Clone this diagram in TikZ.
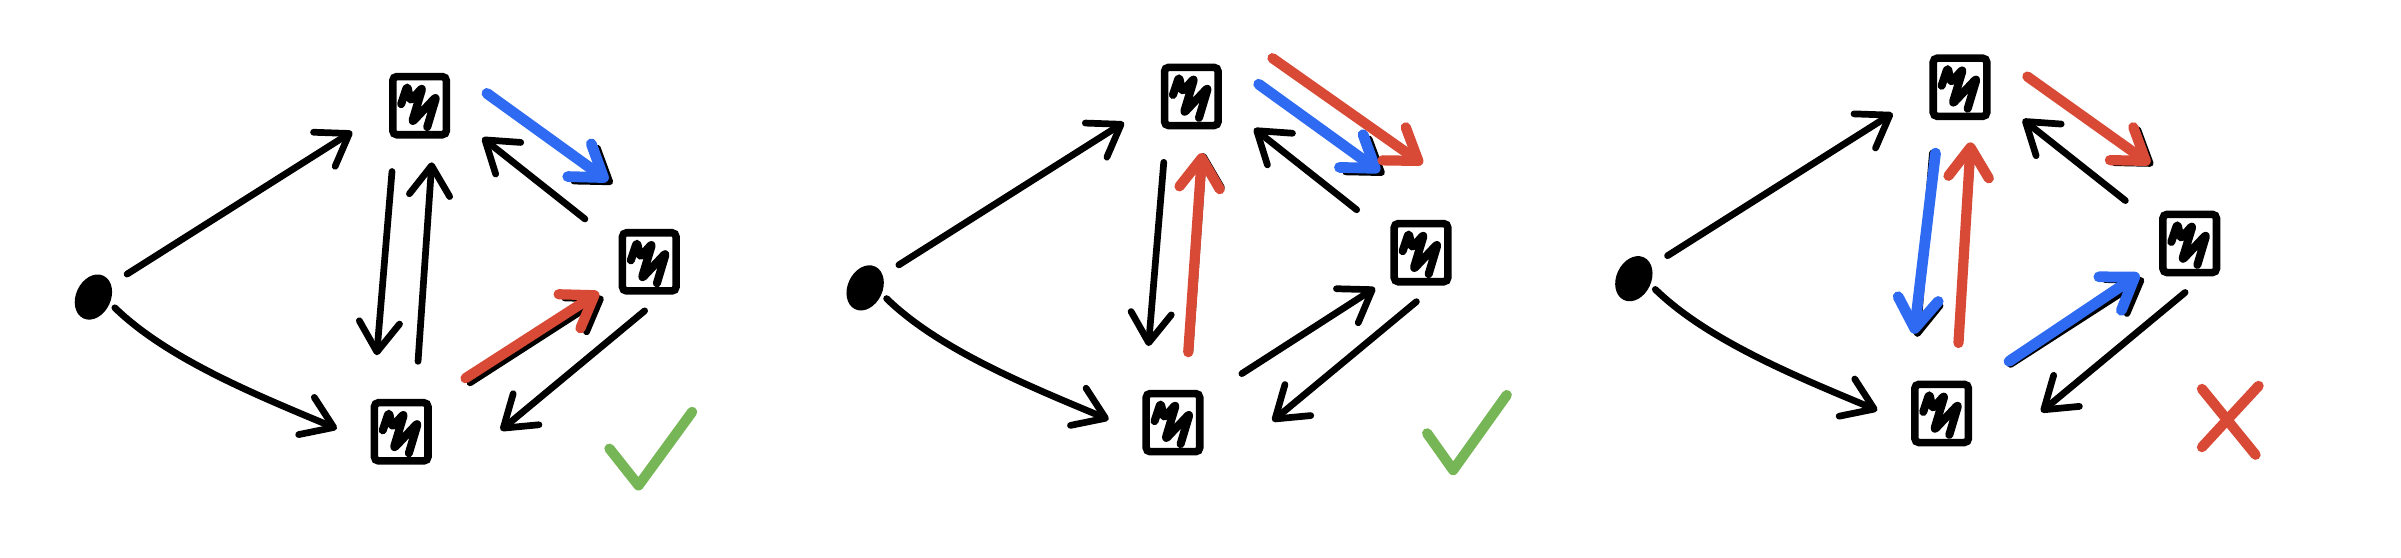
\documentclass[tikz,border=0pt]{standalone}
\usetikzlibrary{arrows.meta,calc,shapes.geometric}
\definecolor{myblue}{HTML}{2E6BF2}
\definecolor{myred}{HTML}{D94A36}
\definecolor{mygreen}{HTML}{76B657}
\tikzset{
 dotnode/.style={ellipse, fill=black, draw=black, line width=1pt, minimum width=0.42cm, minimum height=0.58cm, inner sep=0pt, rotate=-25},
 boxnode/.style={draw, line width=2.8pt, minimum width=0.7cm, minimum height=0.76cm, inner sep=0pt, rounded corners=1.5pt,
   path picture={\draw[line width=3pt, line cap=round, line join=round, rounded corners=1.2pt]
     (path picture bounding box.center) ++(-12,-1) -- ++(4,-12) -- ++(2,10) -- ++(8,-9) -- ++(-7,23) -- ++(16,-17) -- ++(-6,20);}},
 arr/.style={line width=2.5pt, line cap=round, -{Straight Barb[length=11pt,width=15pt,round]}},
 barr/.style={arr, draw=myblue, line width=4pt},
 rarr/.style={arr, draw=myred, line width=3.8pt},
 tickline/.style={line width=3.8pt, line cap=round, line join=round},
}
\newcommand\conn[5]{\draw[#1] ($(#2)+(#3)$) -- ($(#4)+(#5)$);}
\newcommand\graphbase[1]{%
 \node[dotnode] (#1d) at (1,4) {};
 \node[boxnode] (#1T) at (214,-121) {};
 \node[boxnode] (#1R) at (364,-19) {};
 \node[boxnode] (#1B) at (202,92) {};
 \conn{arr}{#1d}{22,-15}{#1T}{-44,17}
 \draw[arr] ($(#1d)+(14,7)$) .. controls ($(#1B)+(-152,-47)$) and ($(#1B)+(-92,-23)$) .. ($(#1B)+(-42,-2)$);
 \conn{arr}{#1T}{-18,43}{#1B}{-16,-50}
 \conn{arr}{#1B}{11,-46}{#1T}{8,37}
 \conn{arr}{#1R}{-42,-28}{#1T}{41,21}
 \conn{arr}{#1T}{46,-6}{#1R}{-24,-51}
 \conn{arr}{#1B}{45,-32}{#1R}{-30,23}
 \conn{arr}{#1R}{-3,32}{#1B}{65,-1}
}
\begin{document}
\begin{tikzpicture}[x=0.02cm,y=-0.02cm]
\useasboundingbox (0,0) rectangle (1568,364);
% panel 1
\begin{scope}[shift={(60,190)}]
 \graphbase{a}
 \conn{barr}{aT}{44,-8}{aR}{-27,-53}
 \conn{rarr}{aB}{42,-35}{aR}{-33,20}
\end{scope}
\draw[tickline, mygreen] (398,293) -- (417,317) -- (452,269);
% panel 2
\begin{scope}[shift={(564,184)}]
 \graphbase{b}
 \conn{rarr}{bB}{10,-46}{bT}{7,37}
 \conn{barr}{bT}{44,-8}{bR}{-27,-53}
 \conn{rarr}{bT}{53,-25}{bR}{1,-58}
\end{scope}
\draw[tickline, mygreen] (932,283) -- (949,307) -- (984,258);
% panel 3
\begin{scope}[shift={(1066,178)}]
 \graphbase{c}
 \conn{barr}{cT}{-16,43}{cB}{-18,-52}
 \conn{rarr}{cB}{11,-46}{cT}{7,36}
 \conn{rarr}{cT}{44,-7}{cR}{-26,-52}
 \conn{barr}{cB}{44,-34}{cR}{-33,20}
\end{scope}
\draw[tickline, myred] (1438,254) -- (1473,297);
\draw[tickline, myred] (1475,252) -- (1438,292);
\end{tikzpicture}
\end{document}
